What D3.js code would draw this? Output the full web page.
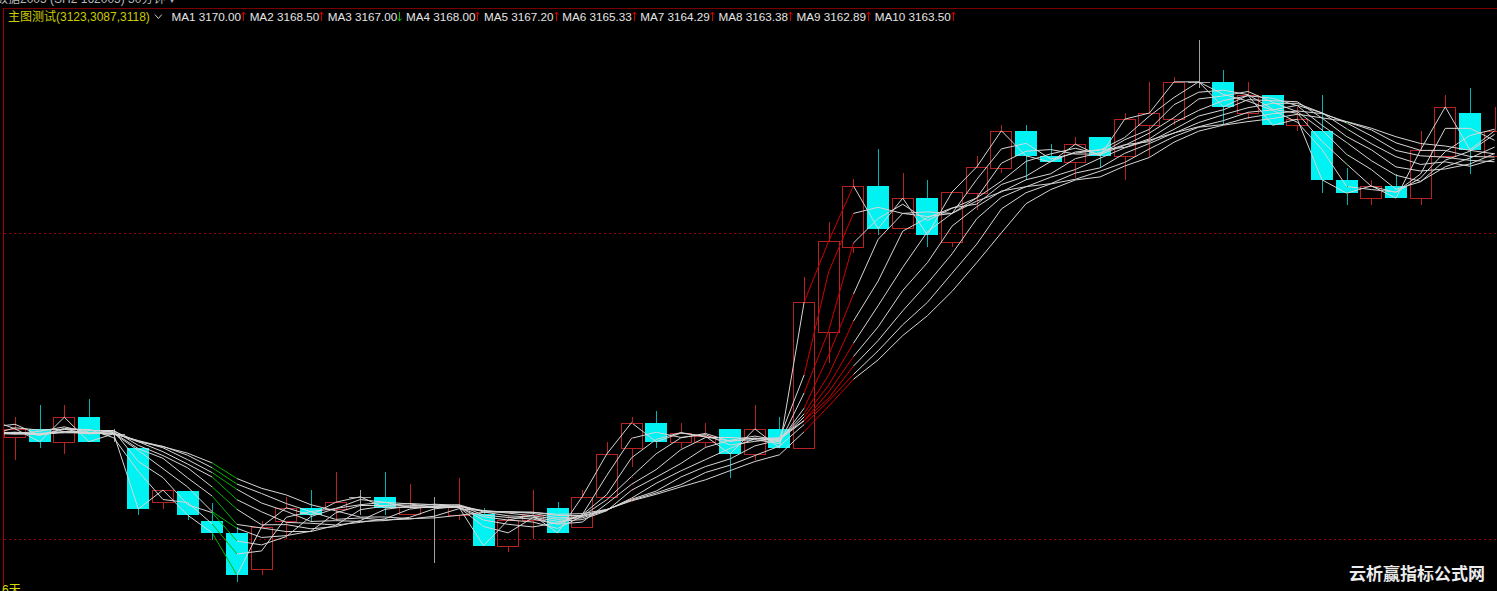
<!DOCTYPE html>
<html><head><meta charset="utf-8">
<script src="https://cdn.jsdelivr.net/npm/d3@7"></script>
<style>html,body{margin:0;padding:0;background:#000;overflow:hidden}</style>
</head><body>
<svg id="c" width="1497" height="591"></svg>
<script>
// ---------- data ----------
const priorCloses = [3116.5, 3118.5, 3115.0, 3117.5, 3119.0, 3116.0, 3118.0, 3114.5, 3117.0, 3119.5];
const opens = [3116.7,3118.0,3115.9,3119.9,3117.2,3114.9,3106.0,3107.8,3102.9,3101.0,
  3095.1,3102.9,3105.1,3104.9,3106.9,3106.9,3104.1,3105.2,3103.9,3104.1,
  3098.9,3103.1,3105.1,3102.0,3106.9,3114.9,3119.0,3115.9,3115.9,3118.0,
  3113.9,3118.0,3114.9,3133.8,3147.7,3157.7,3150.8,3155.7,3148.5,3156.5,
  3160.6,3166.7,3162.6,3161.6,3165.7,3162.6,3167.6,3168.6,3174.7,3174.7,
  3169.6,3172.5,3167.6,3166.7,3158.7,3155.7,3157.7,3155.7,3162.6,3169.6,3162.6];
const highs = [3119.9,3121.9,3121.9,3122.9,3118.0,3114.9,3108.0,3107.8,3105.9,3102.0,
  3102.9,3106.9,3108.0,3111.0,3108.0,3111.0,3109.0,3106.9,3110.0,3105.1,
  3103.9,3108.0,3106.0,3108.0,3115.9,3119.9,3120.9,3119.0,3119.0,3118.0,
  3121.9,3119.9,3142.8,3151.8,3158.8,3163.7,3159.8,3158.7,3156.7,3162.6,
  3167.6,3167.6,3164.5,3165.7,3165.7,3169.6,3174.7,3175.5,3181.5,3176.6,
  3174.7,3172.5,3170.6,3172.5,3160.6,3158.7,3159.6,3166.7,3172.5,3173.7,3170.6];
const lows = [3112.9,3114.9,3113.9,3115.9,3115.9,3103.9,3104.9,3103.1,3099.8,3093.0,
  3094.1,3100.0,3102.9,3103.1,3103.9,3103.9,3103.9,3096.1,3103.1,3098.9,
  3097.9,3100.0,3101.0,3102.0,3106.9,3111.8,3114.9,3114.9,3114.9,3110.0,
  3112.9,3114.9,3114.9,3128.8,3146.7,3149.7,3150.8,3147.7,3147.7,3153.8,
  3159.8,3158.7,3161.6,3159.0,3160.8,3158.7,3162.4,3167.6,3173.7,3167.6,
  3168.6,3167.6,3166.7,3156.5,3154.6,3154.6,3155.7,3154.6,3162.6,3159.6,3162.6];
const closes = [3118.0,3115.9,3119.9,3115.9,3117.2,3104.9,3108.0,3103.9,3101.0,3094.1,
  3102.0,3105.1,3103.9,3106.0,3106.9,3105.1,3105.2,3105.2,3105.2,3098.9,
  3103.1,3103.9,3101.0,3106.9,3113.9,3119.0,3115.9,3117.3,3116.8,3113.9,
  3118.0,3114.9,3138.7,3148.7,3157.7,3150.7,3155.7,3149.7,3156.7,3160.8,
  3166.7,3162.6,3161.6,3164.5,3162.6,3168.6,3169.6,3174.7,3174.7,3170.6,
  3172.5,3167.6,3168.6,3158.7,3156.5,3157.7,3155.7,3163.6,3170.6,3163.6,3166.7];
const maPeriods = [1,2,3,4,5,6,7,8,9,10];
const maHeaderValues = [3170.00,3168.50,3167.00,3168.00,3167.20,3165.33,3164.29,3163.38,3162.89,3163.50];
const maHeaderDirs = ["up","up","down","up","up","up","up","up","up","up"];
const titleText = "主图测试(3123,3087,3118)";
const topCutText = "数据2005  (SH2 162005)  30分钟 ▾";
const gridPrices = [3150, 3100];
const bottomLabel = "6天";
const watermark = "云析赢指标公式网";

// ---------- scales ----------
const W = 1497, H = 591;
const svg = d3.select("#c");
const n = closes.length;
const x = d3.scaleLinear().domain([0, n - 1]).range([15, 1494.6]);
const y = d3.scaleLinear().domain([3100, 3150]).range([539, 233]);
const half = 11;

svg.append("rect").attr("width", W).attr("height", H).attr("fill", "#000");
svg.append("defs").append("clipPath").attr("id", "plot")
  .append("rect").attr("x", 4).attr("y", 9).attr("width", W - 4).attr("height", H - 9);

// grid dotted lines
svg.selectAll("line.grid").data(gridPrices).enter().append("line")
  .attr("x1", 4).attr("x2", W)
  .attr("y1", d => Math.round(y(d)) + 0.5).attr("y2", d => Math.round(y(d)) + 0.5)
  .attr("stroke", "#a00000").attr("stroke-dasharray", "2,3").attr("stroke-width", 1)
  .attr("shape-rendering", "crispEdges");

// frame
svg.append("line").attr("x1", 3).attr("x2", W).attr("y1", 8.5).attr("y2", 8.5).attr("stroke", "#7a0000").attr("shape-rendering", "crispEdges");
svg.append("line").attr("x1", 3.5).attr("x2", 3.5).attr("y1", 8).attr("y2", H).attr("stroke", "#a00000").attr("shape-rendering", "crispEdges");

const plot = svg.append("g").attr("clip-path", "url(#plot)").attr("shape-rendering", "crispEdges");

// candles
const idx = d3.range(n);
const px = v => Math.round(v) + 0.5;
idx.forEach(i => {
  const o = opens[i], c = closes[i], h = highs[i], l = lows[i];
  const cx = Math.round(x(i));
  const g = plot.append("g");
  if (c > o) {
    const col = "#b42224";
    const top = Math.round(y(c)), bot = Math.round(y(o));
    g.append("line").attr("x1", cx + 0.5).attr("x2", cx + 0.5).attr("y1", Math.round(y(h))).attr("y2", top).attr("stroke", col);
    g.append("line").attr("x1", cx + 0.5).attr("x2", cx + 0.5).attr("y1", bot).attr("y2", Math.round(y(l))).attr("stroke", col);
    g.append("rect").attr("x", cx - half + 0.5).attr("y", top + 0.5).attr("width", 2 * half - 1).attr("height", Math.max(1, bot - top))
      .attr("fill", "none").attr("stroke", col);
  } else if (c < o) {
    const top = Math.round(y(o)), bot = Math.round(y(c));
    g.append("line").attr("x1", cx + 0.5).attr("x2", cx + 0.5).attr("y1", Math.round(y(h))).attr("y2", Math.round(y(l))).attr("stroke", "#00b4b4");
    g.append("rect").attr("x", cx - half).attr("y", top).attr("width", 2 * half).attr("height", Math.max(1, bot - top))
      .attr("fill", "#00f2f2").attr("stroke", "none");
  } else {
    const col = "#a0a0a0";
    g.append("line").attr("x1", cx + 0.5).attr("x2", cx + 0.5).attr("y1", Math.round(y(h))).attr("y2", Math.round(y(l))).attr("stroke", col);
    g.append("line").attr("x1", cx - half).attr("x2", cx + half).attr("y1", px(y(c))).attr("y2", px(y(c))).attr("stroke", col);
  }
});

// moving averages
const all = priorCloses.concat(closes);
const off = priorCloses.length;
const maAt = (k, i) => d3.mean(all.slice(off + i - k + 1, off + i + 1));
const pts = d3.range(-1, n);
const ma = maPeriods.map(k => pts.map(i => ({ i, v: maAt(k, i) })));
const state = pts.map((i, j) => {
  const vals = ma.map(s => s[j].v);
  let bull = true, bear = true;
  for (let m = 1; m < vals.length; m++) {
    if (!(vals[m - 1] > vals[m])) bull = false;
    if (!(vals[m - 1] < vals[m])) bear = false;
  }
  return bull ? 1 : (bear ? -1 : 0);
});
const colorOf = s => s === 1 ? "#d00000" : (s === -1 ? "#00b400" : "#d6d6d6");
const maG = svg.append("g").attr("clip-path", "url(#plot)");
ma.forEach(series => {
  for (let j = 0; j < series.length - 1; j++) {
    const a = series[j], b = series[j + 1];
    const s = (state[j] === state[j + 1]) ? state[j] : 0;
    maG.append("line")
      .attr("x1", x(a.i)).attr("y1", y(a.v)).attr("x2", x(b.i)).attr("y2", y(b.v))
      .attr("stroke", colorOf(s)).attr("stroke-width", 1);
  }
  series.forEach((p, j) => {
    const s = state[j];
    if (s !== 0 && state[j - 1] !== s && state[j + 1] !== s) {
      maG.append("rect").attr("x", Math.round(x(p.i))).attr("y", Math.round(y(p.v))).attr("width", 1).attr("height", 1)
        .attr("fill", colorOf(s));
    }
  });
});

// ---------- texts ----------
svg.append("text").attr("x", -4).attr("y", 3).attr("fill", "#b8b8b8")
  .attr("font-family", "'Liberation Sans','Noto Sans CJK SC',sans-serif").attr("font-size", 12).text(topCutText);

const title = svg.append("text").attr("x", 8).attr("y", 20.5).attr("fill", "#cccc00")
  .attr("font-family", "'Liberation Sans','Noto Sans CJK SC',sans-serif").attr("font-size", 12).text(titleText);
const tEnd = 8 + title.node().getComputedTextLength();
svg.append("path").attr("d", `M${tEnd + 5},14.5 L${tEnd + 8.5},18.5 L${tEnd + 12},14.5`)
  .attr("fill", "none").attr("stroke", "#d0d0d0").attr("stroke-width", 1);

let cx0 = 171.5;
maPeriods.forEach((k, j) => {
  const t = svg.append("text").attr("x", cx0).attr("y", 20.5).attr("fill", "#e4e4e4")
    .attr("font-family", "'Liberation Sans',Arial,sans-serif").attr("font-size", 11.7)
    .text(`MA${k} ${maHeaderValues[j].toFixed(2)}`);
  const w = t.node().getComputedTextLength();
  const ax = Math.round(cx0 + w + 2) + 0.5;
  const up = maHeaderDirs[j] === "up";
  svg.append("path")
    .attr("d", up ? `M${ax},21 V12 M${ax - 2},14.5 L${ax},12 L${ax + 2},14.5`
                  : `M${ax},12 V21 M${ax - 2},18.5 L${ax},21 L${ax + 2},18.5`)
    .attr("fill", "none").attr("stroke", up ? "#d00000" : "#00c000").attr("stroke-width", 1);
  cx0 += w + 8.6;
});

svg.append("text").attr("x", 2).attr("y", 594).attr("fill", "#d8d800")
  .attr("font-family", "'Liberation Sans','Noto Sans CJK SC',sans-serif").attr("font-size", 12).text(bottomLabel);

svg.append("text").attr("x", 1485).attr("y", 580).attr("text-anchor", "end").attr("fill", "#ececec")
  .attr("font-family", "'Noto Sans CJK SC',sans-serif").attr("font-weight", "bold").attr("font-size", 17)
  .text(watermark);
</script>
</body></html>
